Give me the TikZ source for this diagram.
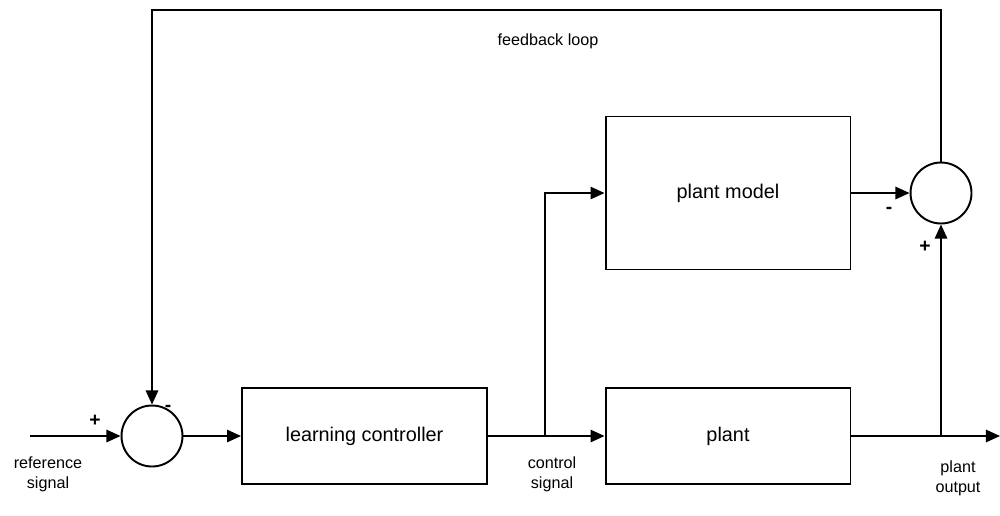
\documentclass[tikz,border=0pt]{standalone}
\usepackage{fontspec}
\setmainfont{Liberation Sans}
\usetikzlibrary{arrows.meta}
\begin{document}
\begin{tikzpicture}[x=0.02cm,y=-0.02cm,
  line width=1.1pt,
  arr/.style={-{Triangle[length=8pt,width=7pt]}},
  block/.style={draw,rectangle,minimum width=4.9cm,font=\fontsize{11.3}{13}\selectfont},
  sumnode/.style={draw,circle,minimum size=1.22cm,inner sep=0pt},
  lbl/.style={font=\fontsize{9.2}{11.5}\selectfont,align=center},
  sgn/.style={font=\bfseries\fontsize{11}{13}\selectfont}]
  \useasboundingbox (0,0) rectangle (1000,515);

  % blocks and summing junctions
  \node[sumnode] (s1) at (152,436) {};
  \node[block,minimum height=1.92cm] (lc) at (364.5,436) {learning controller};
  \node[block,minimum height=1.92cm] (pl) at (728,436) {plant};
  \node[block,minimum height=3.06cm] (pm) at (728,193) {plant model};
  \node[sumnode] (s2) at (941,193) {};

  % free ends and branch points
  \coordinate (in) at (30,436);
  \coordinate (out) at (1000,436);
  \coordinate (br1) at (545,436);
  \coordinate (br2) at (941,436);
  \coordinate (top) at (500,10);

  % signal paths
  \draw[arr] (in) -- (s1.west);
  \draw[arr] (s1.east) -- (lc.west);
  \draw[arr] (lc.east) -- (pl.west);
  \draw[arr] (br1) |- (pm.west);
  \draw[arr] (pl.east) -- (out);
  \draw[arr] (br2) -- (s2.south);
  \draw[arr] (pm.east) -- (s2.west);
  \draw[arr] (s2.north) |- (top) -| (s1.north);

  % labels
  \node[lbl] (lref) at (48,474) {reference\\signal};
  \node[lbl] (lctl) at (552,474) {control\\signal};
  \node[lbl] (lout) at (958,478) {plant\\output};
  \node[lbl] (lfb) at (548,41) {feedback loop};

  % signs
  \node[sgn] (p1) at (95,421) {+};
  \node[sgn] (m1) at (168,408) {-};
  \node[sgn] (m2) at (889,210) {-};
  \node[sgn] (p2) at (925,247) {+};
\end{tikzpicture}
\end{document}
